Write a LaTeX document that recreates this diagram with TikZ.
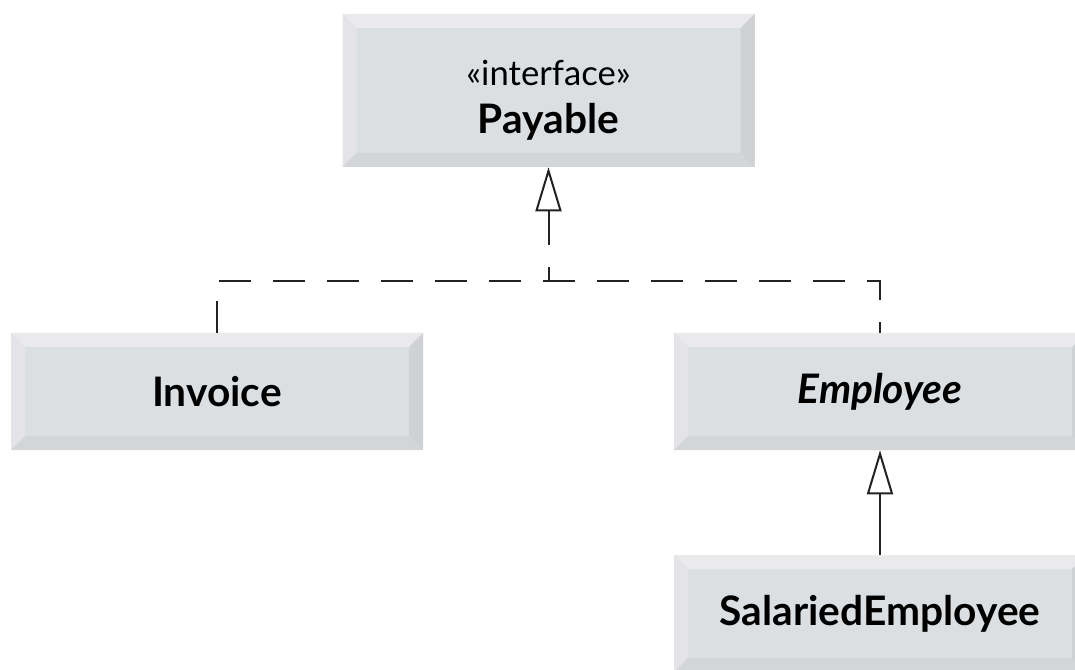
\documentclass[tikz,border=0pt]{standalone}
\usepackage{fontspec}
\setmainfont{Lato}
\usepackage{xcolor}
\usetikzlibrary{arrows.meta,positioning}
\definecolor{boxface}{HTML}{DCDFE2}
\definecolor{bevtop}{HTML}{EAEAED}
\definecolor{bevleft}{HTML}{E4E4E8}
\definecolor{bevbottom}{HTML}{D4D5D7}
\definecolor{bevright}{HTML}{D0D1D3}
\definecolor{linegray}{HTML}{222222}
\newcommand{\bw}{10.5pt}
\tikzset{
	x=0.75pt, y=-0.75pt,
	classbox/.style = {
			fill = boxface,
			inner sep = 0pt,
			minimum width = 309pt,
			minimum height = 87.75pt,
			align = center,
			font = \fontsize{30.5}{36}\selectfont\bfseries,
			path picture = {
					\def\pb{path picture bounding box}
					\fill[bevtop] (\pb.north west) -- (\pb.north east) -- ([shift={(-\bw,-\bw)}]\pb.north east) -- ([shift={(\bw,-\bw)}]\pb.north west) -- cycle;
					\fill[bevleft] (\pb.north west) -- ([shift={(\bw,-\bw)}]\pb.north west) -- ([shift={(\bw,\bw)}]\pb.south west) -- (\pb.south west) -- cycle;
					\fill[bevbottom] (\pb.south west) -- ([shift={(\bw,\bw)}]\pb.south west) -- ([shift={(-\bw,\bw)}]\pb.south east) -- (\pb.south east) -- cycle;
					\fill[bevright] (\pb.north east) -- ([shift={(-\bw,-\bw)}]\pb.north east) -- ([shift={(-\bw,\bw)}]\pb.south east) -- (\pb.south east) -- cycle;
				}
		},
	realize/.style = {draw=linegray, line width=1.5pt, dash pattern=on 24pt off 16.5pt},
	inherit/.style = {draw=linegray, line width=1.5pt, -{Triangle[open, length=33pt, width=19.5pt, line width=1.5pt]}}
}

\begin{document}
\begin{tikzpicture}
	\useasboundingbox (0,0) rectangle (1075,670);
	\node[classbox, minimum height=114.75pt] at (548.5,90.5) (pay) {\raisebox{-7pt}[\height][\depth]{\begin{tabular}{@{}c@{}}{\mdseries\fontsize{26}{36}\selectfont «interface»}\\Payable\end{tabular}}};
	\node[classbox] at (217,391.5) (inv) {Invoice};
	\node[classbox] at (880,391.5) (emp) {\itshape Employee};
	\node[classbox] at (880,613.5) (sal) {SalariedEmployee};
	\coordinate (join) at (548.5,281);
	\draw[realize] (inv.north) |- (join) -| (emp.north);
	\draw[inherit, dash pattern=on 10.5pt off 16.5pt on 40pt] (join) -- (pay.south);
	\draw[inherit] (sal.north) -- (emp.south);
\end{tikzpicture}
\end{document}
